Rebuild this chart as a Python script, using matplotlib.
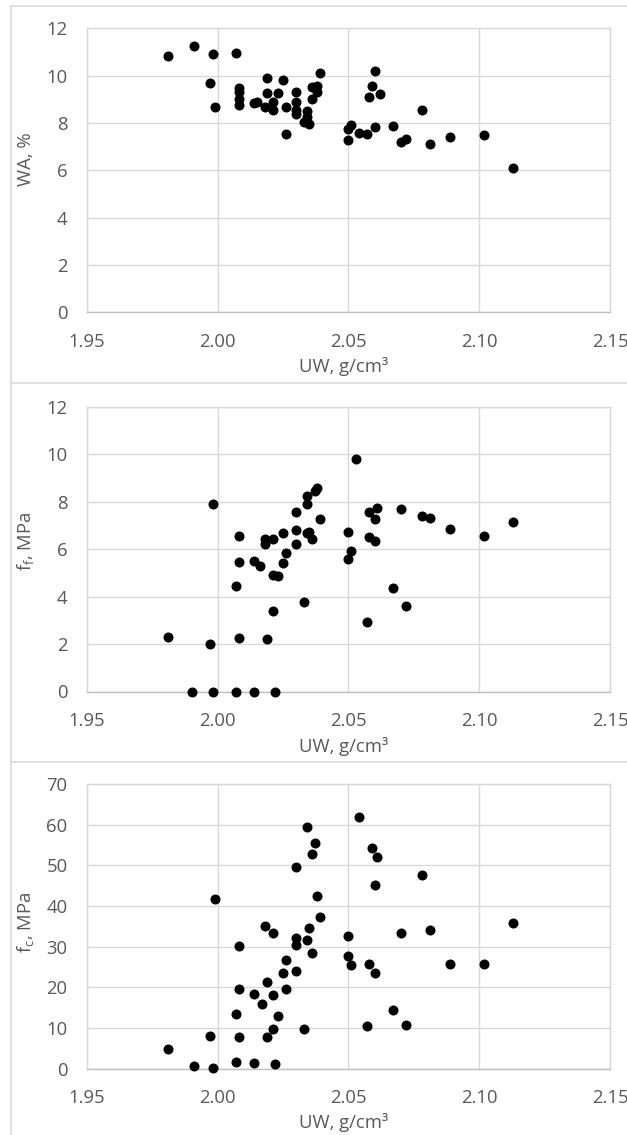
import numpy as np
import matplotlib
matplotlib.use("Agg")
import matplotlib.pyplot as plt
from matplotlib.lines import Line2D

plt.rcParams['font.family'] = ['Open Sans', 'DejaVu Sans']
plt.rcParams['mathtext.fontset'] = 'custom'
plt.rcParams['mathtext.rm'] = 'Open Sans'
plt.rcParams['mathtext.it'] = 'Open Sans:italic'

## data
uw_wa = [1.981, 1.991, 1.998, 2.007, 1.997, 1.999, 2.008, 2.008, 2.008, 2.008,
         2.014, 2.015, 2.019, 2.019, 2.018, 2.021, 2.021, 2.023, 2.025, 2.026,
         2.026, 2.030, 2.030, 2.030, 2.030, 2.034, 2.034, 2.033, 2.035, 2.036,
         2.036, 2.038, 2.038, 2.039, 2.050, 2.050, 2.051, 2.054, 2.057, 2.058,
         2.059, 2.060, 2.060, 2.062, 2.067, 2.070, 2.072, 2.078, 2.081, 2.089,
         2.102, 2.113]
wa = [10.83, 11.25, 10.93, 10.96, 9.69, 8.66, 9.48, 9.32, 9.01, 8.76,
      8.85, 8.90, 9.89, 9.25, 8.69, 8.87, 8.55, 9.28, 9.83, 8.69,
      7.54, 9.30, 8.90, 8.55, 8.38, 8.52, 8.24, 8.04, 7.94, 9.01,
      9.54, 9.56, 9.32, 10.11, 7.28, 7.73, 7.92, 7.59, 7.52, 9.11,
      9.55, 10.18, 7.83, 9.23, 7.89, 7.18, 7.31, 8.55, 7.10, 7.41,
      7.51, 6.11]

uw_ff = [1.981, 1.990, 1.997, 1.998, 1.998, 2.007, 2.007, 2.008, 2.008, 2.008,
         2.014, 2.014, 2.016, 2.018, 2.018, 2.019, 2.021, 2.021, 2.021, 2.022,
         2.023, 2.025, 2.026, 2.025, 2.030, 2.030, 2.030, 2.033, 2.034, 2.034,
         2.034, 2.035, 2.036, 2.037, 2.038, 2.039, 2.050, 2.050, 2.051, 2.053,
         2.057, 2.058, 2.058, 2.060, 2.060, 2.061, 2.067, 2.070, 2.072, 2.078,
         2.081, 2.089, 2.102, 2.113]
ff = [2.31, 0, 2.0, 0, 7.88, 0, 4.43, 6.56, 5.46, 2.24,
      5.5, 0, 5.29, 6.44, 6.23, 2.21, 6.42, 4.9, 3.40, 0,
      4.85, 6.67, 5.85, 5.42, 6.81, 7.57, 6.22, 3.77, 7.88, 8.23,
      6.67, 6.72, 6.44, 8.46, 8.57, 7.26, 5.6, 6.70, 5.94, 9.81,
      2.91, 7.57, 6.53, 6.35, 7.26, 7.72, 4.38, 7.71, 3.59, 7.41,
      7.30, 6.84, 6.56, 7.15]

uw_fc = [1.981, 1.991, 1.997, 1.998, 1.999, 2.007, 2.007, 2.008, 2.008, 2.008,
         2.014, 2.014, 2.017, 2.018, 2.019, 2.019, 2.021, 2.021, 2.021, 2.022,
         2.023, 2.025, 2.026, 2.026, 2.030, 2.030, 2.030, 2.030, 2.033, 2.034,
         2.034, 2.035, 2.036, 2.036, 2.037, 2.038, 2.039, 2.050, 2.050, 2.051,
         2.054, 2.057, 2.058, 2.059, 2.060, 2.060, 2.061, 2.067, 2.070, 2.072,
         2.078, 2.081, 2.089, 2.102, 2.113]
fc = [4.9, 0.57, 8.0, 0.16, 41.6, 1.55, 13.5, 19.6, 30.1, 7.8,
      18.4, 1.3, 15.9, 35.1, 21.3, 7.8, 33.4, 18.2, 9.8, 1.0,
      12.8, 23.4, 26.7, 19.5, 30.5, 32.0, 49.5, 24.1, 9.8, 59.5,
      31.6, 34.6, 28.5, 52.7, 55.4, 42.5, 37.2, 32.6, 27.6, 25.4,
      62.0, 10.4, 25.6, 54.3, 23.5, 45.2, 52.0, 14.3, 33.4, 10.6,
      47.6, 34.1, 25.6, 25.6, 35.9]

x_ticks = [1.95, 2.00, 2.05, 2.10, 2.15]
y_labels = ["WA, %", r"f$_\mathregular{f}$, MPa", r"f$_\mathregular{c}$, MPa"]
x_label = "UW, g/cm³"

W, H = 627, 1135
txt = '#595959'
grid = '#d9d9d9'
fs = 13.3

fig = plt.figure(figsize=(W / 100, H / 100), dpi=100)

def fx(px):
    return px / W

def fy(py):
    return 1 - py / H

## panel borders
for yy in [6, 383.5, 761.5]:
    fig.add_artist(Line2D([fx(11), 1], [fy(yy), fy(yy)], color=grid, lw=1.2))
fig.add_artist(Line2D([fx(11), fx(11)], [fy(6), 0], color=grid, lw=1.2))

## (top px, bottom px, ymax, ystep, ylabel center y, xlabel center y)
panels = [
    (28.3, 312.3, 12, 2, 159, 367, uw_wa, wa),
    (406.7, 691.5, 12, 2, 541, 746, uw_ff, ff),
    (784, 1068.5, 70, 10, 922, 1122, uw_fc, fc),
]

for i, (top, bot, ymax, ystep, ylc, xlc, xs, ys) in enumerate(panels):
    ax = fig.add_axes([fx(87), fy(bot), (610 - 87) / W, (bot - top) / H])
    ax.scatter(xs, ys, s=52, color='black', zorder=3, clip_on=False, linewidths=0)
    ax.set_xlim(1.95, 2.15)
    ax.set_ylim(0, ymax)
    ax.set_xticks(x_ticks)
    ax.set_xticklabels(["%.2f" % t for t in x_ticks])
    ax.set_yticks(np.arange(0, ymax + 1, ystep))
    ax.grid(True, color=grid, lw=1.0, zorder=0)
    ax.set_axisbelow(True)
    for s in ax.spines.values():
        s.set_color(grid)
        s.set_linewidth(1.0)
    ax.spines['bottom'].set_color('#bfbfbf')
    ax.tick_params(length=0, labelsize=fs, labelcolor=txt)
    ax.tick_params(axis='y', pad=14)
    ax.tick_params(axis='x', pad=15)
    fig.text(fx(26), fy(ylc), y_labels[i], rotation=90, ha='center', va='center',
             fontsize=fs, color=txt)
    fig.text(fx(344), fy(xlc), x_label, ha='center', va='center',
             fontsize=fs, color=txt)

fig.savefig("out.png", dpi=100)
